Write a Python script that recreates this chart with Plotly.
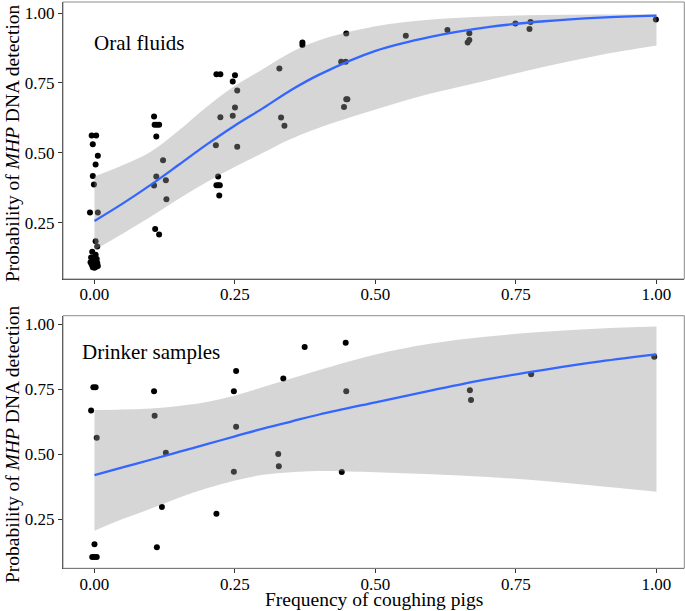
import plotly.graph_objects as go

# ---------------- data: Oral fluids ----------------
oral_x = [-0.005, 0.003, -0.003, 0.006, 0.002, -0.003, -0.001, -0.008, 0.006, 0.002, 0.005,
          -0.004, 0.002, -0.006, 0.004, -0.002, 0.005, -0.005, 0.001, 0.003, -0.003, 0.000, -0.007, 0.006,
          0.106, 0.107, 0.111, 0.115, 0.110, 0.122, 0.110, 0.106, 0.127, 0.128, 0.108, 0.115,
          0.217, 0.224, 0.250, 0.246, 0.254, 0.224, 0.246, 0.250, 0.216, 0.254, 0.220,
          0.217, 0.220, 0.223, 0.222,
          0.329, 0.332, 0.338, 0.370, 0.370,
          0.448, 0.439, 0.447, 0.448, 0.450, 0.444, 0.554,
          0.628, 0.667, 0.667, 0.664, 0.749, 0.776, 0.774, 0.999]
oral_y = [0.562, 0.562, 0.531, 0.489, 0.458, 0.417, 0.386, 0.286, 0.286, 0.183, 0.164,
          0.146, 0.135, 0.125, 0.120, 0.112, 0.105, 0.100, 0.097, 0.092, 0.090, 0.088, 0.108, 0.095,
          0.630, 0.600, 0.600, 0.600, 0.558, 0.473, 0.415, 0.383, 0.402, 0.334, 0.227, 0.207,
          0.781, 0.781, 0.778, 0.755, 0.723, 0.627, 0.633, 0.662, 0.527, 0.522, 0.415,
          0.384, 0.384, 0.384, 0.347,
          0.802, 0.626, 0.597, 0.895, 0.886,
          0.927, 0.826, 0.826, 0.692, 0.692, 0.664, 0.919,
          0.940, 0.928, 0.904, 0.895, 0.963, 0.968, 0.943, 0.977]

# fitted curve and 95% band
fit_x = [0.0, 0.05, 0.1, 0.15, 0.2, 0.25, 0.3, 0.35, 0.4, 0.5, 0.6, 0.7, 0.8, 0.9, 1.0]
oral_fit = [0.256, 0.318, 0.385, 0.457, 0.530, 0.598, 0.660, 0.725, 0.780, 0.865, 0.916, 0.950, 0.971, 0.984, 0.991]
oral_upper = [0.415, 0.455, 0.504, 0.580, 0.665, 0.740, 0.800, 0.860, 0.903, 0.953, 0.977, 0.988, 0.993, 0.995, 0.996]
oral_lower = [0.152, 0.210, 0.271, 0.335, 0.395, 0.450, 0.500, 0.550, 0.590, 0.655, 0.713, 0.760, 0.808, 0.850, 0.884]

# ---------------- data: Drinker samples ----------------
drink_x = [-0.002, 0.002, -0.006, 0.004, 0.000, -0.004, 0.000, 0.004,
           0.106, 0.107, 0.127, 0.120, 0.111,
           0.217, 0.252, 0.248, 0.252, 0.248,
           0.327, 0.328, 0.336, 0.374, 0.447, 0.448, 0.440,
           0.668, 0.670, 0.777, 0.996]
drink_y = [0.757, 0.757, 0.667, 0.563, 0.153, 0.104, 0.104, 0.104,
           0.741, 0.647, 0.505, 0.296, 0.141,
           0.270, 0.819, 0.741, 0.605, 0.432,
           0.500, 0.453, 0.790, 0.912, 0.928, 0.741, 0.431,
           0.745, 0.708, 0.807, 0.874]
drink_fit = [0.419, 0.449, 0.478, 0.508, 0.538, 0.568, 0.598, 0.625, 0.652, 0.699, 0.745, 0.788, 0.824, 0.856, 0.883]
drink_upper = [0.669, 0.671, 0.675, 0.685, 0.700, 0.725, 0.758, 0.790, 0.823, 0.883, 0.925, 0.952, 0.970, 0.983, 0.990]
drink_lower = [0.205, 0.250, 0.290, 0.332, 0.368, 0.398, 0.420, 0.430, 0.435, 0.430, 0.422, 0.412, 0.396, 0.376, 0.355]

tick_vals = [0.0, 0.25, 0.5, 0.75, 1.0]
tick_text = ["0.00", "0.25", "0.50", "0.75", "1.00"]

FONT = "Liberation Serif"
BLUE = "#3366FF"
RIBBON = "rgba(153,153,153,0.4)"

fig = go.Figure()


def add_panel(xs, ys, fit, up, lo, xa, ya):
    fig.add_trace(go.Scatter(x=xs, y=ys, mode="markers", xaxis=xa, yaxis=ya,
                             marker=dict(color="black", size=6, line=dict(width=0)),
                             showlegend=False, hoverinfo="skip"))
    fig.add_trace(go.Scatter(x=fit_x, y=lo, mode="lines", xaxis=xa, yaxis=ya,
                             line=dict(width=0, shape="spline", color="rgba(0,0,0,0)"),
                             showlegend=False, hoverinfo="skip"))
    fig.add_trace(go.Scatter(x=fit_x, y=up, mode="lines", xaxis=xa, yaxis=ya,
                             fill="tonexty", fillcolor=RIBBON,
                             line=dict(width=0, shape="spline", color="rgba(0,0,0,0)"),
                             showlegend=False, hoverinfo="skip"))
    fig.add_trace(go.Scatter(x=fit_x, y=fit, mode="lines", xaxis=xa, yaxis=ya,
                             line=dict(width=2.3, shape="spline", color=BLUE),
                             showlegend=False, hoverinfo="skip"))


add_panel(oral_x, oral_y, oral_fit, oral_upper, oral_lower, "x", "y")
add_panel(drink_x, drink_y, drink_fit, drink_upper, drink_lower, "x2", "y2")

XDOM = [63 / 685, 684.3 / 685]
axis_common = dict(showgrid=False, zeroline=False, ticks="outside", ticklen=4, tickwidth=1,
                   tickcolor="#333333", showline=True, linecolor="#333333", linewidth=1,
                   automargin=False,
                   tickfont=dict(family=FONT, size=17, color="black"),
                   tickvals=tick_vals, ticktext=tick_text)

fig.update_layout(
    template="none",
    width=685, height=611,
    margin=dict(l=0, r=0, t=0, b=0, pad=0),
    paper_bgcolor="white", plot_bgcolor="white",
    font=dict(family=FONT, color="black"),
    xaxis=dict(domain=XDOM, range=[-0.056, 1.0495], anchor="y", ticklabelstandoff=-4, **axis_common),
    yaxis=dict(domain=[1 - 279 / 611, 1 - 2 / 611], range=[0.048, 1.040], anchor="x", **axis_common),
    xaxis2=dict(domain=XDOM, range=[-0.056, 1.0495], anchor="y2", ticklabelstandoff=-4, **axis_common),
    yaxis2=dict(domain=[1 - 568.3 / 611, 1 - 315.7 / 611], range=[0.0605, 1.032], anchor="x2", **axis_common),
)

# panel borders
for xr, yr in (("x domain", "y domain"), ("x2 domain", "y2 domain")):
    fig.add_shape(type="rect", xref=xr, yref=yr, x0=0, x1=1, y0=0, y1=1,
                  line=dict(color="#8c8c8c", width=1), fillcolor="rgba(0,0,0,0)", layer="above")

ytitle = "Probability of <i>MHP</i> DNA detection"
annotations = [
    dict(text=ytitle, xref="paper", yref="paper", x=12 / 685, y=1 - 143 / 611,
         textangle=-90, showarrow=False, xanchor="center", yanchor="middle",
         font=dict(family=FONT, size=19.5, color="black")),
    dict(text=ytitle, xref="paper", yref="paper", x=12 / 685, y=1 - 444 / 611,
         textangle=-90, showarrow=False, xanchor="center", yanchor="middle",
         font=dict(family=FONT, size=19.5, color="black")),
    dict(text="Frequency of coughing pigs", xref="paper", yref="paper", x=374 / 685, y=1 - 599 / 611,
         showarrow=False, xanchor="center", yanchor="middle",
         font=dict(family=FONT, size=19.5, color="black")),
    dict(text="Oral fluids", xref="x", yref="y", x=-0.002, y=0.8925, showarrow=False,
         xanchor="left", yanchor="middle", borderpad=0,
         font=dict(family=FONT, size=21, color="black")),
    dict(text="Drinker samples", xref="x2", yref="y2", x=-0.0235, y=0.8935, showarrow=False,
         xanchor="left", yanchor="middle", borderpad=0,
         font=dict(family=FONT, size=21, color="black")),
]
fig.update_layout(annotations=annotations)

fig.write_html("out.html", config={"displayModeBar": False},
               post_script="document.body.style.margin='0';document.body.style.overflow='hidden';")
